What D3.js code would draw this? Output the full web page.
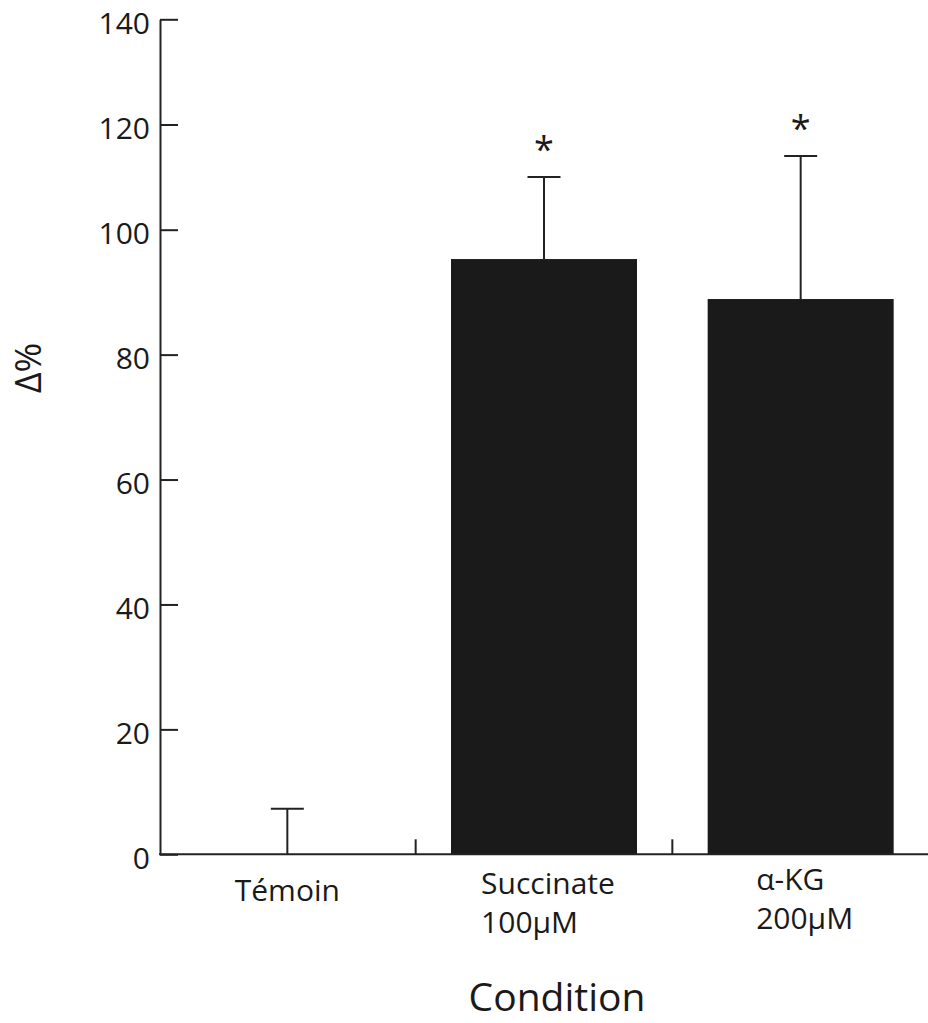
<!DOCTYPE html>
<html>
<head>
<meta charset="utf-8">
<script src="https://cdn.jsdelivr.net/npm/d3@7"></script>
<style>
  html, body { margin: 0; padding: 0; background: #fff; }
  svg { display: block; }
  text { font-family: "Open Sans", "Noto Sans", sans-serif; fill: #1a1a1a; }
</style>
</head>
<body>
<svg id="chart" width="928" height="1023"></svg>
<script>
// ---- data ----
const categories = ["Témoin", "Succinate\n100µM", "α-KG\n200µM"];
const means = [0, 95.3, 88.9];
const errorTops = [7.3, 110.0, 114.0];
const significant = [false, true, true];
const yTicks = [0, 20, 40, 60, 80, 100, 120, 140];
const yLabel = "Δ%";
const xLabel = "Condition";

// ---- layout ----
const svg = d3.select("#chart");
const ink = "#1a1a1a";
const axisX = 160;
const baseY = 854.3;
const fs = 30;

const x = d3.scaleBand().domain(categories).range([159, 929]).padding(0);
// the original axis is not uniform above 100
const y = d3.scaleLinear().domain([0, 100, 140]).range([baseY, 229.7, 19.3]);

const barW = 186;
const capW = 33;

// bars
svg.append("g").selectAll("rect")
  .data(categories)
  .join("rect")
  .attr("x", (d) => x(d) + x.bandwidth() / 2 - barW / 2)
  .attr("y", (d, i) => y(means[i]))
  .attr("width", barW)
  .attr("height", (d, i) => y(0) - y(means[i]))
  .attr("fill", ink);

// error bars
const eg = svg.append("g").attr("stroke", "#222").attr("stroke-width", 2);
categories.forEach((c, i) => {
  const cx = x(c) + x.bandwidth() / 2;
  eg.append("line").attr("x1", cx).attr("x2", cx)
    .attr("y1", y(means[i])).attr("y2", y(errorTops[i]));
  eg.append("line").attr("x1", cx - capW / 2).attr("x2", cx + capW / 2)
    .attr("y1", y(errorTops[i])).attr("y2", y(errorTops[i]));
  if (significant[i]) {
    svg.append("text")
      .attr("x", cx).attr("y", y(errorTops[i]) - 15)
      .attr("text-anchor", "middle")
      .attr("font-size", 36)
      .text("*");
  }
});

// y axis
const yAxis = d3.axisLeft(y).tickValues(yTicks).tickSizeInner(-18).tickSizeOuter(0).tickPadding(10);
const gy = svg.append("g").attr("transform", `translate(${axisX},0)`).call(yAxis);
gy.select(".domain").attr("stroke", "#222").attr("stroke-width", 2);
gy.selectAll(".tick line").attr("stroke", "#222").attr("stroke-width", 2);
gy.selectAll(".tick text")
  .attr("font-size", fs)
  .attr("dy", "0.46em")
  .attr("font-family", "'Open Sans', sans-serif")
  .attr("fill", ink);

// x axis line
svg.append("line")
  .attr("x1", axisX - 1).attr("x2", 928)
  .attr("y1", baseY).attr("y2", baseY)
  .attr("stroke", "#222").attr("stroke-width", 2);

// x ticks between categories
svg.append("g").selectAll("line")
  .data(categories.slice(1))
  .join("line")
  .attr("x1", (d) => x(d)).attr("x2", (d) => x(d))
  .attr("y1", baseY).attr("y2", baseY - 15)
  .attr("stroke", "#222").attr("stroke-width", 2);

// x category labels
const labelBase = [901, 894, 890];
categories.forEach((c, i) => {
  const lines = c.split("\n");
  const cx = x(c) + x.bandwidth() / 2;
  const t = svg.append("text")
    .attr("font-size", fs)
    .attr("text-anchor", lines.length > 1 ? "start" : "middle");
  if (lines.length > 1) {
    // multiline labels are left aligned on their widest line
    let w = 0;
    lines.forEach((ln) => {
      const tmp = svg.append("text").attr("font-size", fs).text(ln);
      w = Math.max(w, tmp.node().getComputedTextLength());
      tmp.remove();
    });
    const left = cx + 4 - w / 2;
    lines.forEach((ln, k) => {
      t.append("tspan").attr("x", left).attr("y", labelBase[i] + k * 39).text(ln);
    });
  } else {
    t.attr("x", cx).attr("y", labelBase[i]).text(c);
  }
});

// axis titles
svg.append("text")
  .attr("transform", "translate(41,368) rotate(-90)")
  .attr("text-anchor", "middle")
  .attr("font-size", 36)
  .text(yLabel);

svg.append("text")
  .attr("x", 557).attr("y", 1011)
  .attr("text-anchor", "middle")
  .attr("font-size", 39)
  .text(xLabel);
</script>
</body>
</html>
